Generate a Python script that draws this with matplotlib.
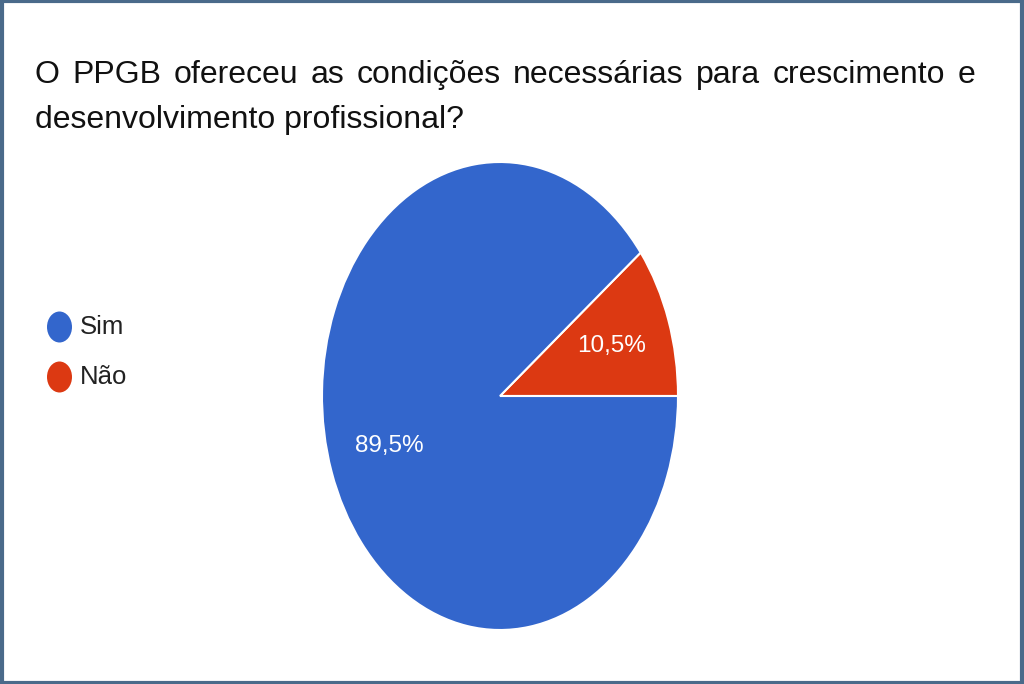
import matplotlib
matplotlib.use("Agg")
import matplotlib.pyplot as plt
from matplotlib.patches import Ellipse, Rectangle

labels = ["Não", "Sim"]
values = [10.5, 89.5]
colors = ["#DC3912", "#3366CC"]
legend_order = ["Sim", "Não"]
title_line1 = "O PPGB ofereceu as condições necessárias para crescimento e"
title_line2 = "desenvolvimento profissional?"

FONT = "Liberation Sans"

W, H = 1024, 684
fig = plt.figure(figsize=(W / 100, H / 100), dpi=100)
fig.patch.set_facecolor("white")

# border
fig.add_artist(Rectangle((0.0015, 0.002), 0.997, 0.996, transform=fig.transFigure,
                         fill=False, edgecolor="#4A6A8A", linewidth=3))

# pie axes (elliptical because of aspect auto)
ax = fig.add_axes([322 / W, 1 - 630 / H, 356 / W, 468 / H])
wedges, texts, autotexts = ax.pie(
    values, colors=colors, startangle=0, counterclock=True,
    autopct=lambda p: f"{p:.1f}%".replace(".", ","), pctdistance=0.66,
    wedgeprops=dict(edgecolor="white", linewidth=1.5),
    textprops=dict(color="white", fontsize=17.5, family=FONT))
ax.set_aspect("auto")
ax.set_xlim(-1.0, 1.0)
ax.set_ylim(-1.0, 1.0)
ax.axis("off")

# legend
for i, name in enumerate(legend_order):
    c = colors[labels.index(name)]
    y = 1 - (327 + 50 * i) / H
    fig.add_artist(Ellipse((59.5 / W, y), 25 / W, 31 / H, transform=fig.transFigure,
                           facecolor=c, edgecolor="none"))
    fig.text(80 / W, y, name, fontsize=18.5, color="#222222", family=FONT,
             va="center", ha="left")

# title, line 1 justified
fs = 23
left, right = 35, 975
words = title_line1.split(" ")
fig.canvas.draw()
renderer = fig.canvas.get_renderer()
tobjs = []
widths = []
for w in words:
    t = fig.text(0, 1 - 83 / H, w, fontsize=fs, color="#111111", family=FONT,
                 va="baseline", ha="left")
    bb = t.get_window_extent(renderer)
    widths.append(bb.width)
    tobjs.append(t)
gap = (right - left - sum(widths)) / (len(words) - 1)
x = left
for t, wd in zip(tobjs, widths):
    t.set_x(x / W)
    x += wd + gap
fig.text(left / W, 1 - 128 / H, title_line2, fontsize=fs, color="#111111",
         family=FONT, va="baseline", ha="left")

fig.savefig("out.png", dpi=100, facecolor="white")
